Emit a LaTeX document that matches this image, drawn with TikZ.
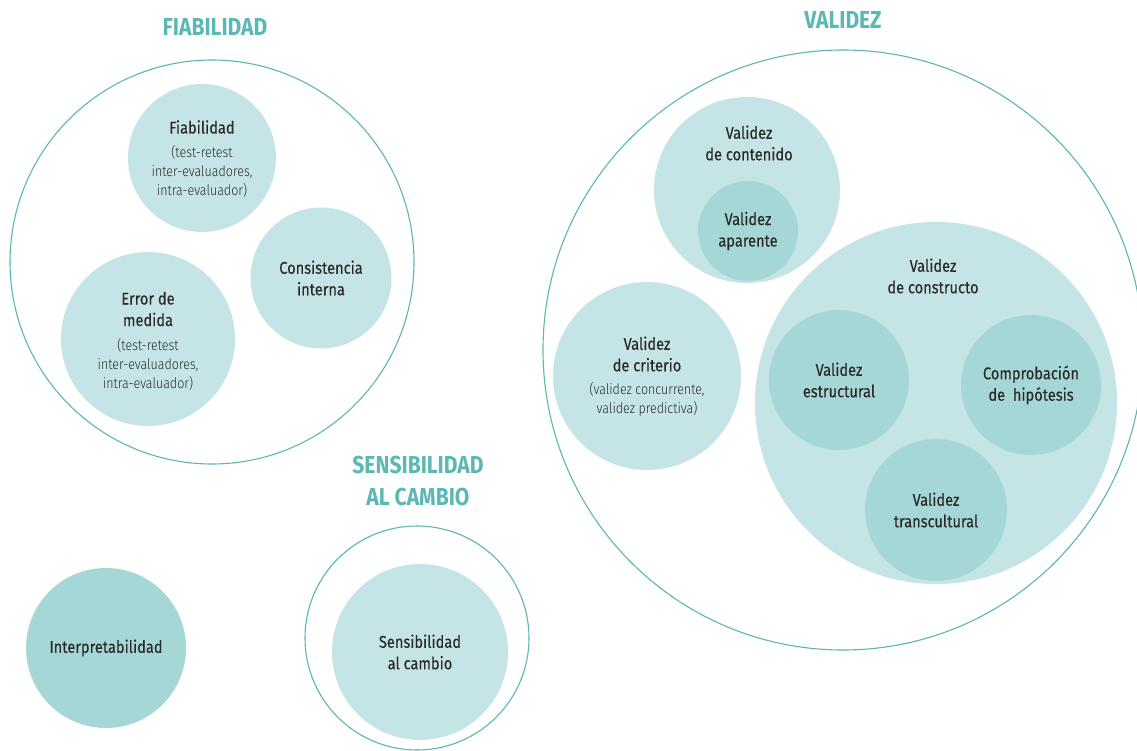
\documentclass[tikz,border=0pt]{standalone}
\usepackage{fontspec}
\setmainfont{Fira Sans}[FakeStretch=0.86]
\newfontfamily\lightfont{Fira Sans Light}[FakeStretch=0.86]
\newfontfamily\labelfont{Fira Sans}[FakeStretch=0.86,FakeBold=0.35]
\usetikzlibrary{positioning}
\definecolor{ringcol}{HTML}{5DB6B3}
\definecolor{titlecol}{HTML}{5CB8B5}
\definecolor{softfill}{HTML}{C5E4E5}
\definecolor{deepfill}{HTML}{A6D7D7}
\definecolor{inkcol}{HTML}{2A2A2A}
\tikzset{
  ring/.style={circle, draw=ringcol, line width=1.1pt, fill=white},
  lbl/.style={text=inkcol, align=center, font=\labelfont\fontsize{17}{21.5}\selectfont},
  soft/.style={circle, fill=softfill, lbl},
  deep/.style={circle, fill=deepfill, lbl},
  heading/.style={text=titlecol, font=\bfseries\fontsize{24.5}{32}\selectfont, align=center},
  note/.style={text=inkcol, align=center, font=\lightfont\fontsize{14.5}{19}\selectfont}
}
\begin{document}
\begin{tikzpicture}[x=1pt,y=-1pt]
\useasboundingbox (0,0) rectangle (1137,751);
\fill[white] (0,0) rectangle (1137,751);

% Fiabilidad group
\node[heading] (tfia) at (215,27) {FIABILIDAD};
\node[ring, minimum size=404pt] (gfia) at (212,262) {};
\node[soft, minimum size=148pt] (fia) at (202,158) {};
\node[lbl] (fiatxt) at (202,127) {Fiabilidad};
\node[note, below=5pt of fiatxt] (fianote) {(test-retest\\inter-evaluadores,\\intra-evaluador)};
\node[soft, minimum size=141pt] (cons) at (321,278) {Consistencia\\interna};
\node[soft, minimum size=174pt] (err) at (148,339) {};
\node[lbl] (errtxt) at (148,309) {Error de\\medida};
\node[note, below=5pt of errtxt] (errnote) {(test-retest\\inter-evaluadores,\\intra-evaluador)};

% Validez group
\node[heading] (tval) at (843,20) {VALIDEZ};
\node[ring, minimum size=600pt] (gval) at (843,350) {};
\node[soft, minimum size=186pt] (cont) at (747,190) {};
\node[lbl] (conttxt) at (749,143) {Validez\\de contenido};
\node[deep, minimum size=100pt] (apar) at (748,231) {Validez\\aparente};
\node[soft, minimum size=188pt] (crit) at (647,376) {};
\node[lbl] (crittxt) at (647,354) {Validez\\de criterio};
\node[note, below=4pt of crittxt] (critnote) {(validez concurrente,\\validez predictiva)};
\node[soft, minimum size=362pt] (constr) at (936,403) {};
\node[lbl] (constrtxt) at (933,276) {Validez\\de constructo};
\node[deep, minimum size=140pt] (estr) at (839,380) {Validez\\estructural};
\node[deep, minimum size=140pt] (hip) at (1031,385) {Comprobación\\de\ \ hipótesis};
\node[deep, minimum size=142pt] (trans) at (936,510) {Validez\\transcultural};

% Sensibilidad al cambio group
\node[heading] (tsens) at (418,481) {SENSIBILIDAD\\AL CAMBIO};
\node[ring, minimum size=224pt] (gsens) at (417,638) {};
\node[soft, minimum size=176pt] (sens) at (420,652) {Sensibilidad\\al cambio};

% Interpretabilidad
\node[deep, minimum size=160pt] (interp) at (106,648) {Interpretabilidad};
\end{tikzpicture}
\end{document}
